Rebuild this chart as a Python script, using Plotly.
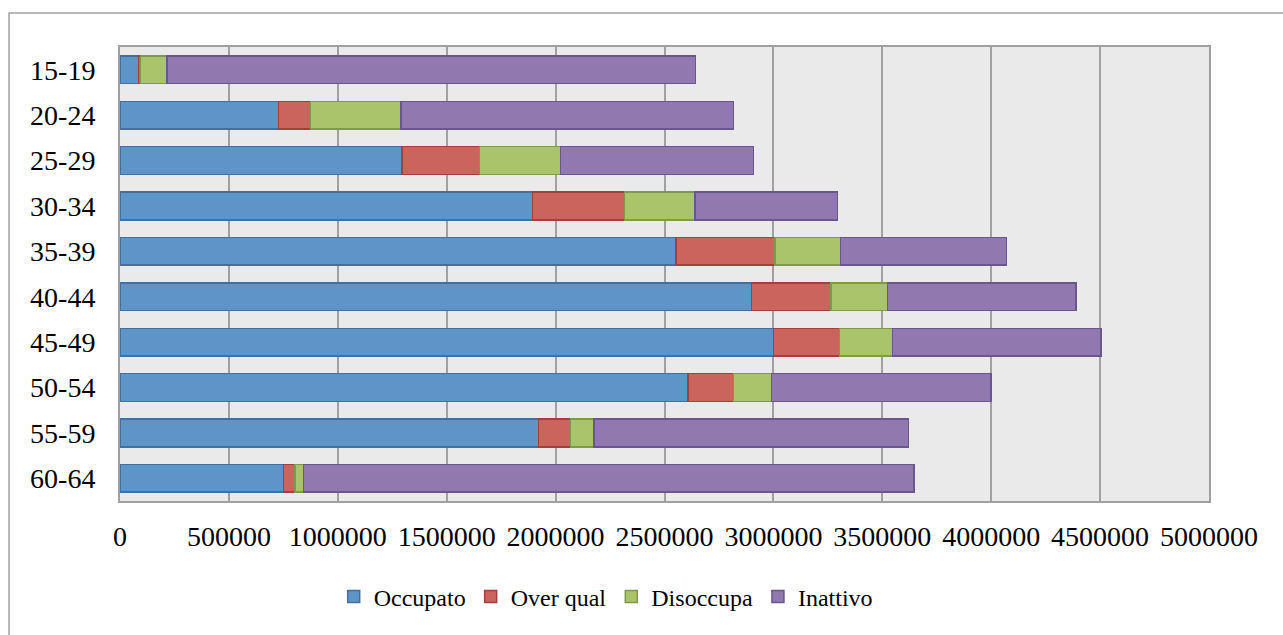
import plotly.graph_objects as go

# Age groups and population counts per labour status
age_groups = ["15-19", "20-24", "25-29", "30-34", "35-39",
              "40-44", "45-49", "50-54", "55-59", "60-64"]
occupato = [85000, 727000, 1294000, 1894000, 2553000,
            2899000, 3000000, 2608000, 1921000, 751000]
over_qual = [8000, 147000, 357000, 423000, 454000,
             365000, 304000, 209000, 147000, 53000]
disoccupa = [122000, 416000, 371000, 323000, 300000,
             260000, 243000, 175000, 109000, 38000]
inattivo = [2427000, 1527000, 887000, 655000, 764000,
            865000, 958000, 1007000, 1444000, 2804000]

x_ticks = list(range(0, 5000001, 500000))

series = [
    ("Occupato", occupato, "#5E95C9", "#41709F"),
    ("Over qual", over_qual, "#CC645E", "#A4403C"),
    ("Disoccupa", disoccupa, "#AAC46C", "#7E9A47"),
    ("Inattivo", inattivo, "#9179B0", "#6A568F"),
]

fig = go.Figure()
for name, vals, fill, edge in series:
    fig.add_trace(go.Bar(
        y=age_groups, x=vals, name=name, orientation="h",
        marker=dict(color=fill, line=dict(color=edge, width=1.5)),
    ))

FONT = "Liberation Serif"

fig.update_layout(
    width=1283, height=635,
    barmode="stack", bargap=0.39,
    paper_bgcolor="white", plot_bgcolor="#EAEAEA",
    margin=dict(l=120, r=74, t=47, b=134),
    font=dict(family=FONT, color="#000000", size=28),
    showlegend=True,
    legend=dict(
        orientation="h", x=0.446, xanchor="center",
        y=-0.2115, yanchor="middle",
        font=dict(family=FONT, size=24),
        itemwidth=30, traceorder="normal",
        bgcolor="rgba(0,0,0,0)",
    ),
    xaxis=dict(
        range=[0, 5000000], tickvals=x_ticks,
        ticktext=[str(v) for v in x_ticks],
        showgrid=True, gridcolor="#A0A0A0", gridwidth=2,
        zeroline=False, showline=True, linecolor="#A0A0A0", linewidth=2,
        mirror=True,
        ticks="outside", ticklen=9, tickcolor="rgba(0,0,0,0)",
        tickfont=dict(family=FONT, size=28),
        fixedrange=True,
    ),
    yaxis=dict(
        categoryorder="array", categoryarray=age_groups,
        autorange="reversed",
        showgrid=False, zeroline=False,
        showline=True, linecolor="#A0A0A0", linewidth=2, mirror=True,
        ticks="outside", ticklen=17, tickcolor="rgba(0,0,0,0)",
        tickfont=dict(family=FONT, size=28),
        fixedrange=True,
    ),
    shapes=[dict(
        type="rect", xref="paper", yref="paper",
        x0=-0.1019, x1=1.2, y0=-0.4, y1=1.0749,
        line=dict(color="#A0A0A0", width=1.5),
        fillcolor="rgba(0,0,0,0)", layer="below",
    )],
)

fig.write_html("out.html")
